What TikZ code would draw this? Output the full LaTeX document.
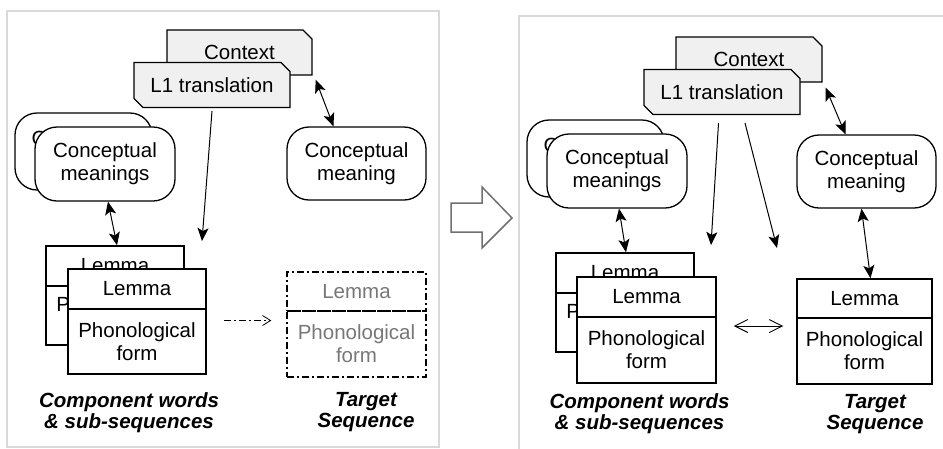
\documentclass[tikz,border=0pt]{standalone}
\usepackage{fontspec}
\setmainfont{Liberation Sans}
\usetikzlibrary{shapes.misc,arrows.meta,calc}
\definecolor{ctxgray}{HTML}{F0F0F0}
\definecolor{panelgray}{HTML}{DADADA}
\definecolor{txtgray}{HTML}{777777}
\definecolor{bigarrow}{HTML}{707070}
\begin{document}
\begin{tikzpicture}[x=1pt,y=-1pt,
  base/.style={font=\fontsize{20.5}{23}\selectfont, inner sep=0pt, align=center},
  ctxbox/.style={base, chamfered rectangle, chamfered rectangle corners={north east,south west},
     chamfered rectangle sep=4.5pt, draw, line width=1.4pt, fill=ctxgray, minimum height=45pt},
  cmbox/.style={base, draw, line width=1.3pt, fill=white, rounded corners=22pt, minimum width=140pt, minimum height=74pt},
  lembox/.style={base, draw, line width=1.5pt, fill=white, minimum width=138pt, minimum height=40pt},
  formbox/.style={base, draw, line width=1.5pt, fill=white, minimum width=138pt, minimum height=65pt},
  dashdot/.style={dash pattern=on 7pt off 3pt on 2pt off 3pt},
  tgtbox/.style={base, draw, dashdot, line width=1.4pt, text=txtgray, minimum width=139pt},
  caption/.style={font=\fontsize{20.5}{21}\selectfont\bfseries\itshape, inner sep=0pt, align=center},
  panel/.style={draw=panelgray, line width=2pt},
  tip/.tip={Stealth[length=13pt,width=11pt,inset=3pt]},
  arr/.style={line width=1pt, -tip},
  darr/.style={line width=1pt, tip-tip},
  oarr/.style={line width=0.9pt, {Straight Barb[length=13pt,width=13pt]}-{Straight Barb[length=13pt,width=13pt]}},
  dotarr/.style={line width=0.8pt, dashdot, -{Straight Barb[length=8pt,width=10pt]}}
]
\useasboundingbox (0,0) rectangle (943,448);

% panels
\draw[panel] (7,11) rectangle (439,447);
\draw[panel] (519,16) rectangle (970,480);

% big hollow arrow
\draw[draw=bigarrow, line width=1.5pt, fill=white, line join=miter]
  (451,203) -- (482,203) -- (482,187) -- (512,218) -- (482,248) -- (482,232) -- (451,232) -- cycle;

% ===== LEFT PANEL =====
\node[ctxbox, minimum width=145pt] (ctxL) at (239.5,52.5) {Context};
\node[ctxbox, minimum width=156pt] (l1L) at (212,85) {L1 translation};
\node[cmbox, minimum width=137pt, minimum height=77pt] (cmbL) at (83.5,151.5) {Conceptual\\meanings};
\node[cmbox] (cmfL) at (105,164) {Conceptual\\meanings};
\node[cmbox, minimum width=139pt, minimum height=73pt] (cmL) at (356.5,163.5) {Conceptual\\meaning};

\node[lembox] (lemBL) at (115,266) {Lemma};
\node[formbox, minimum height=59pt] (formBL) at (115,315.5) {Phonological\\form};
\node[lembox] (lemFL) at (137,289) {Lemma};
\node[formbox] (formFL) at (137,341.5) {Phonological\\form};

\node[tgtbox, minimum height=39pt] (lemTL) at (356.5,291.5) {Lemma};
\node[tgtbox, minimum height=66pt] (formTL) at (356.5,344) {Phonological\\form};

\node[caption] (compL) at (129,412.5) {Component words\\\& sub-sequences};
\node[caption] (targL) at (366,412.5) {Target\\Sequence};

\coordinate (l1Lend) at (202,241);
\draw[arr] ([yshift=-3pt]l1L.south) -- (l1Lend);
\draw[darr] ([xshift=3pt]cmfL.south) -- ([xshift=2pt]lemBL.north);
\draw[darr] ([xshift=3pt,yshift=-4pt]ctxL.south east) -- ([xshift=-23pt]cmL.north);
\draw[dotarr, shorten <=17pt, shorten >=15pt] ([yshift=21pt]formFL.east) -- ([yshift=21pt]formFL.east -| formTL.west);

% ===== RIGHT PANEL =====
\node[ctxbox, minimum width=146pt] (ctxR) at (749,59.5) {Context};
\node[ctxbox, minimum width=156pt] (l1R) at (722,92) {L1 translation};
\node[cmbox, minimum width=137pt, minimum height=77pt] (cmbR) at (595.5,158.5) {Conceptual\\meanings};
\node[cmbox] (cmfR) at (617,171) {Conceptual\\meanings};
\node[cmbox, minimum width=139pt, minimum height=73pt] (cmR) at (866.5,171.5) {Conceptual\\meaning};

\node[lembox] (lemBR) at (625,273) {Lemma};
\node[formbox, minimum height=59pt] (formBR) at (625,322.5) {Phonological\\form};
\node[lembox, minimum width=139pt] (lemFR) at (646.5,297) {Lemma};
\node[formbox, minimum width=139pt, minimum height=66pt] (formFR) at (646.5,350) {Phonological\\form};

\node[lembox, minimum width=135pt, minimum height=39pt] (lemTR) at (864.5,298.5) {Lemma};
\node[formbox, minimum width=135pt, minimum height=66pt] (formTR) at (864.5,351) {Phonological\\form};

\node[caption] (compR) at (639.5,413.5) {Component words\\\& sub-sequences};
\node[caption] (targR) at (875,414) {Target\\Sequence};

\coordinate (l1Rend1) at (711,245);
\coordinate (l1Rend2) at (777,248);
\draw[arr, shorten <=8pt] ([xshift=-3pt]l1R.south) -- (l1Rend1);
\draw[arr, shorten <=8pt] ([xshift=21pt]l1R.south) -- (l1Rend2);
\draw[darr] ([xshift=2pt]cmfR.south) -- ([xshift=1pt]lemBR.north);
\draw[darr] ([xshift=3pt,yshift=-5pt]ctxR.south east) -- ([xshift=-21pt]cmR.north);
\draw[darr] ([xshift=-5pt]cmR.south) -- ([xshift=6pt]lemTR.north);
\draw[oarr, shorten <=17pt, shorten >=13pt] ([yshift=24pt]formFR.east) -- ([yshift=24pt]formFR.east -| formTR.west);
\end{tikzpicture}
\end{document}
